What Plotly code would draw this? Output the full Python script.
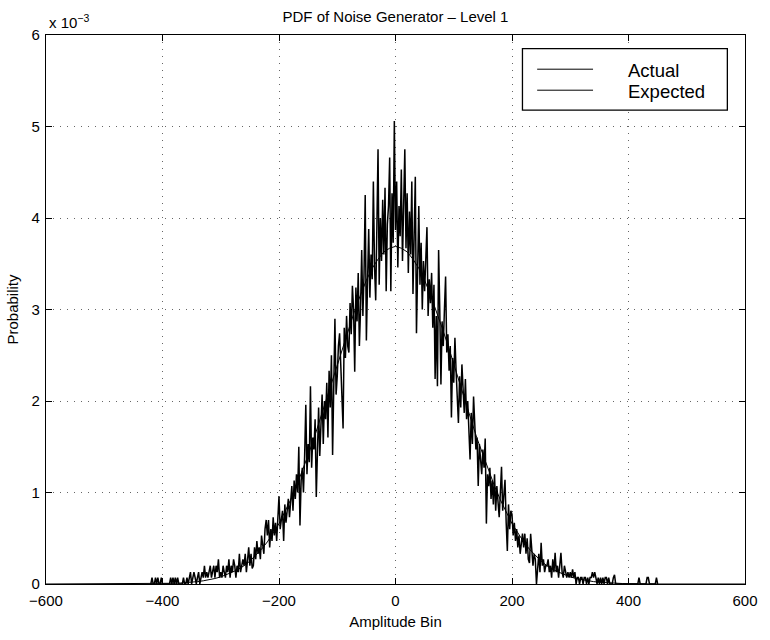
import numpy as np
import plotly.graph_objects as go

# ---------------- data (probability values in units of 1e-3) ----------------
actual_bin_start = -420
actual_bin_step = 2
actual_prob_e3 = [
    # -420 .. -402
    0, 0.07, 0, 0, 0.07, 0, 0.07, 0, 0, 0.07,
    # -400 .. -382
    0, 0, 0, 0, 0, 0, 0, 0.07, 0, 0.07,
    # -380 .. -362
    0, 0.07, 0, 0.07, 0, 0, 0, 0, 0.07, 0,
    # -360 .. -342
    0, 0.07, 0, 0.07, 0.13, 0, 0.07, 0.13, 0.07, 0,
    # -340 .. -322
    0.07, 0.13, 0, 0.07, 0.13, 0.07, 0.2, 0.07, 0.13, 0.07,
    # -320 .. -302
    0.13, 0.2, 0.07, 0.13, 0.2, 0.07, 0.2, 0.13, 0.27, 0.07,
    # -300 .. -282
    0.13, 0.07, 0.2, 0.13, 0.07, 0.2, 0.13, 0.27, 0.07, 0.2,
    # -280 .. -262
    0.13, 0.27, 0.2, 0.07, 0.2, 0.13, 0.33, 0.13, 0.2, 0.27,
    # -260 .. -242
    0.2, 0.33, 0.13, 0.27, 0.4, 0.2, 0.33, 0.17, 0.2, 0.4,
    # -240 .. -222
    0.27, 0.47, 0.33, 0.4, 0.27, 0.53, 0.4, 0.33, 0.6, 0.7,
    # -220 .. -202
    0.53, 0.7, 0.4, 0.6, 0.47, 0.73, 0.53, 0.67, 0.47, 0.8,
    # -200 .. -182
    0.96, 0.6, 0.73, 0.8, 0.47, 0.87, 0.67, 0.8, 0.93, 0.73,
    # -180 .. -162
    0.87, 1.07, 0.8, 1.13, 0.93, 1.2, 1.0, 1.5, 0.64, 1.13,
    # -160 .. -142
    1.27, 1.0, 1.4, 1.96, 1.2, 1.53, 1.33, 2.16, 1.27, 1.6,
    # -140 .. -122
    1.47, 1.8, 0.95, 1.67, 1.93, 1.4, 1.73, 2.07, 1.53, 2.0,
    # -120 .. -102
    1.8, 2.2, 1.6, 2.33, 1.93, 2.5, 1.41, 2.2, 2.9, 2.07,
    # -100 .. -82
    2.27, 2.6, 2.74, 2.4, 2.13, 1.7, 2.8, 2.47, 2.93, 2.6,
    # -80 .. -62
    2.53, 3.07, 2.73, 3.26, 3.0, 2.32, 3.24, 2.87, 3.4, 2.6,
    # -60 .. -42
    3.0, 3.65, 2.93, 3.4, 4.25, 2.66, 3.3, 3.88, 3.13, 3.6,
    # -40 .. -22
    3.33, 4.4, 3.47, 3.1, 3.9, 4.75, 3.27, 4.0, 3.53, 4.2,
    # -20 .. -2
    3.6, 4.33, 3.2, 3.93, 4.13, 4.66, 3.2, 4.27, 3.73, 5.06,
    # 0 .. 18
    3.87, 4.4, 3.46, 4.13, 3.8, 4.53, 3.53, 4.0, 4.75, 3.67,
    # 20 .. 38
    4.27, 3.4, 4.07, 3.6, 4.4, 3.17, 3.87, 4.45, 2.74, 3.6,
    # 40 .. 58
    4.13, 3.27, 3.73, 3.0, 3.53, 3.2, 3.47, 3.9, 2.93, 3.33,
    # 60 .. 78
    3.07, 3.4, 2.8, 3.27, 2.24, 2.93, 2.16, 3.65, 3.0, 2.18,
    # 80 .. 98
    2.87, 2.6, 3.0, 3.36, 2.53, 2.73, 2.33, 2.6, 1.82, 2.47,
    # 100 .. 118
    2.2, 2.69, 2.33, 2.0, 1.76, 2.27, 1.93, 2.4, 2.07, 1.87,
    # 120 .. 138
    2.24, 1.8, 2.0, 1.6, 1.36, 1.87, 1.53, 2.05, 1.67, 1.47,
    # 140 .. 158
    1.6, 1.07, 1.53, 1.33, 1.2, 1.47, 1.27, 1.59, 0.66, 1.2,
    # 160 .. 178
    1.07, 1.27, 0.93, 1.13, 0.87, 1.2, 0.8, 1.07, 0.93, 0.73,
    # 180 .. 198
    1.0, 1.28, 0.8, 0.93, 1.14, 0.67, 0.36, 0.87, 0.6, 0.8,
    # 200 .. 218
    0.76, 0.53, 0.67, 0.47, 0.6, 0.4, 0.53, 0.33, 0.47, 0.55,
    # 220 .. 238
    0.4, 0.55, 0.33, 0.5, 0.27, 0.23, 0.55, 0.4, 0.2, 0.33,
    # 240 .. 258
    0.27, 0.0, 0.2, 0.33, 0.13, 0.45, 0.2, 0.27, 0.13, 0.2,
    # 260 .. 278
    0.2, 0.27, 0.13, 0.2, 0.07, 0.27, 0.13, 0.34, 0.13, 0.2,
    # 280 .. 298
    0.07, 0.2, 0.34, 0.13, 0.07, 0.2, 0.13, 0.07, 0.13, 0.07,
    # 300 .. 318
    0.13, 0.07, 0.16, 0.07, 0.13, 0.0, 0.07, 0.07, 0.0, 0.07,
    # 320 .. 338
    0.07, 0.0, 0.07, 0.07, 0.0, 0.07, 0.0, 0.07, 0.07, 0.13,
    # 340 .. 358
    0.07, 0.13, 0.07, 0.0, 0.07, 0.0, 0.07, 0.0, 0.07, 0.0,
    # 360 .. 378
    0.07, 0.07, 0.0, 0.07, 0.0, 0.0, 0.0, 0.07, 0.1, 0.0,
    # 380 .. 398
    0, 0, 0, 0, 0, 0, 0, 0, 0, 0,
    # 400 .. 418
    0, 0, 0, 0, 0, 0, 0, 0, 0, 0.07,
    # 420 .. 438
    0, 0, 0, 0, 0, 0, 0.07, 0.07, 0, 0,
    # 440 .. 450
    0, 0, 0, 0, 0.07, 0,
]
actual_bins = [actual_bin_start + i * actual_bin_step for i in range(len(actual_prob_e3))]

expected_bins = [-600] + list(range(-450, 451, 10)) + [600]
expected_prob_e3 = [
    0.0,
    0.0, 0.0, 0.001, 0.001, 0.003, 0.004, 0.005, 0.008, 0.010, 0.014,
    0.019, 0.026, 0.035, 0.046, 0.060, 0.078, 0.10, 0.13, 0.16, 0.20,
    0.25, 0.31, 0.38, 0.46, 0.56, 0.66, 0.79, 0.92, 1.07, 1.23,
    1.41, 1.59, 1.79, 1.99, 2.20, 2.40, 2.61, 2.80, 2.99, 3.16,
    3.32, 3.45, 3.55, 3.63, 3.67,
    3.69,
    3.67, 3.63, 3.55, 3.45, 3.32,
    3.16, 2.99, 2.80, 2.61, 2.40, 2.20, 1.99, 1.79, 1.59, 1.41,
    1.23, 1.07, 0.92, 0.79, 0.66, 0.56, 0.46, 0.38, 0.31, 0.25,
    0.20, 0.16, 0.13, 0.10, 0.078, 0.060, 0.046, 0.035, 0.026, 0.019,
    0.014, 0.010, 0.008, 0.005, 0.004, 0.003, 0.001, 0.001, 0.0, 0.0,
    0.0,
]

x_ticks = [-600, -400, -200, 0, 200, 400, 600]
y_ticks = [0, 1, 2, 3, 4, 5, 6]

title_text = "PDF of Noise Generator – Level 1"
x_label = "Amplitude Bin"
y_label = "Probability"
series_names = ["Actual", "Expected"]

# ---------------- figure ----------------
FONT = "Liberation Sans, Arial, Helvetica, sans-serif"
W, H = 770, 640
ML, MR, MT, MB = 44, 13, 35, 43

fig = go.Figure()
fig.add_trace(go.Scatter(x=actual_bins, y=actual_prob_e3, mode="lines",
                         name=series_names[0], line=dict(color="black", width=1.5),
                         showlegend=False))
fig.add_trace(go.Scatter(x=expected_bins, y=expected_prob_e3, mode="lines",
                         name=series_names[1], line=dict(color="black", width=1),
                         showlegend=False))

axis_common = dict(
    showline=True, linecolor="black", linewidth=1.3, mirror="ticks",
    ticks="inside", ticklen=6, tickcolor="black", tickwidth=1,
    showgrid=True, gridcolor="#666666", griddash="1px,6px", gridwidth=1,
    zeroline=False, tickfont=dict(family=FONT, size=15, color="black"),
)
fig.update_xaxes(range=[-600, 600], tickvals=x_ticks, **axis_common,
                 ticklabelstandoff=3,
                 title=dict(text=x_label, font=dict(family=FONT, size=15, color="black"),
                            standoff=8))
fig.update_yaxes(range=[0, 6], tickvals=y_ticks, **axis_common,
                 ticklabelstandoff=2,
                 title=dict(text=y_label, font=dict(family=FONT, size=15, color="black"),
                            standoff=9))

# manual legend box (MATLAB style)
pw, ph = W - ML - MR, H - MT - MB
def px_x(p):
    return (p - ML) / pw
def px_y(p):
    return (H - MB - p) / ph

fig.add_shape(type="rect", xref="paper", yref="paper",
              x0=px_x(530), x1=px_x(739), y0=px_y(112), y1=px_y(49),
              line=dict(color="black", width=1.3), fillcolor="white", layer="above")
for i, name in enumerate(series_names):
    yy = 70 + i * 21.5
    fig.add_shape(type="line", xref="paper", yref="paper",
                  x0=px_x(545), x1=px_x(602), y0=px_y(yy), y1=px_y(yy),
                  line=dict(color="black", width=1), layer="above")
    fig.add_annotation(xref="paper", yref="paper", x=px_x(637), y=px_y(yy + 1),
                       xanchor="left", yanchor="middle", showarrow=False, borderpad=0,
                       text=name, font=dict(family=FONT, size=18.5, color="black"))

# exponent label
fig.add_annotation(xref="paper", yref="paper", x=0, y=1, xanchor="left", yanchor="bottom",
                   xshift=1, yshift=2, showarrow=False,
                   text="x 10<sup>−3</sup>", font=dict(family=FONT, size=15, color="black"))

fig.update_layout(
    width=W, height=H,
    margin=dict(l=ML, r=MR, t=MT, b=MB),
    paper_bgcolor="white", plot_bgcolor="white",
    title=dict(text=title_text, x=0.5, xref="paper",
               y=1 - 17 / H, yref="container", xanchor="center", yanchor="middle",
               font=dict(family=FONT, size=15, color="black")),
    font=dict(family=FONT, color="black"),
)

fig.write_html("out.html")
